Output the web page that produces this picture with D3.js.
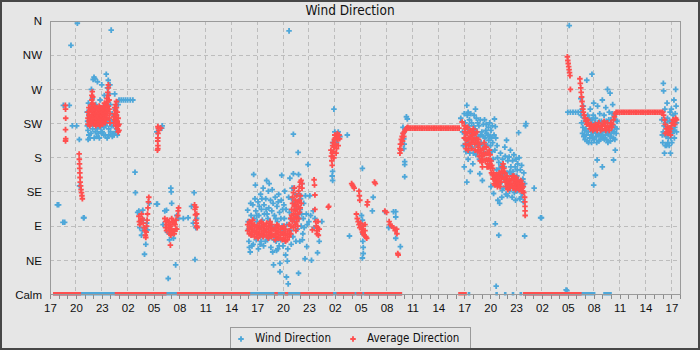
<!DOCTYPE html>
<meta charset="utf-8">
<style>
body { margin: 0; background: #e6e6e6; }
svg { display: block; font-family: "DejaVu Sans Condensed", "DejaVu Sans", sans-serif; }
.grid line { stroke: #bdbdbd; stroke-dasharray: 4,3; shape-rendering: crispEdges; }
.axis text { font-size: 11.5px; fill: #111; }
.axis line { stroke: #8c8c8c; shape-rendering: crispEdges; }
.axis path { display: none; }
</style>

<svg width="700" height="350"></svg>

<script src="https://d3js.org/d3.v7.min.js"></script>
<script>

// hours counted from 17:00 on the first day
var start = new Date(2021, 0, 1, 17);
var toDate = h => new Date(+start + h * 36e5);

var dirTicks = [0, 45, 90, 135, 180, 225, 270, 315, 360];
var dirLabels = ["Calm", "NE", "E", "SE", "S", "SW", "W", "NW", "N"];
var hourTicks = [0, 3, 6, 9, 12, 15, 18, 21, 24, 27, 30, 33, 36, 39, 42, 45, 48, 51, 54, 57, 60, 63, 66, 69, 72];
var hourEnd = 73;

// [hour, degrees] - single readings
var windDir = [
  [0.85,118],[1.0,118],[1.5,95],[1.7,95],[1.55,249],[2.24,249],[2.43,328],[3.17,357],[2.59,222],[3.09,222],
  [3.4,204],[3.42,143],[3.88,101],[3.94,101],
  [4.3,240],[4.35,228],[4.4,216],[4.45,252],[4.5,210],[4.55,234],[4.6,222],[4.7,246],[4.75,212],[4.8,270],
  [4.85,228],[4.9,258],[4.95,218],[5.0,283],[5.05,240],[5.1,286],[5.15,226],[5.2,284],[5.25,214],[5.3,250],
  [5.4,232],[5.45,218],[5.5,280],[5.55,244],[5.6,212],[5.7,228],[5.8,256],[5.85,220],[5.9,238],[6.0,276],
  [6.05,214],[6.1,230],[6.2,248],[6.25,220],[6.3,262],[6.4,210],[6.45,236],[6.52,290],[6.6,226],[6.65,272],
  [6.7,244],[6.75,282],[6.8,218],[6.85,264],[6.9,230],[6.95,276],[7.0,250],[7.1,222],[7.09,348],[7.2,238],
  [7.3,212],[7.4,228],[7.5,264],[7.55,244],[7.6,214],[7.7,236],[7.8,210],[7.9,250],
  [4.32,222],[4.42,204],[4.62,206],[4.72,232],[4.92,224],[5.12,206],[5.22,236],[5.42,208],[5.62,226],[5.72,206],
  [5.92,214],[6.02,226],[6.22,210],[6.42,222],[6.62,206],[6.72,230],[6.82,210],[7.02,214],[7.22,208],[7.32,222],
  [7.42,210],[7.62,226],[7.72,218],
  [8.0,256],[8.25,256],[8.5,256],[8.75,256],[9.0,256],[9.3,256],[9.6,256],
  [9.85,161],[9.9,134],[10.15,108],[10.3,110],[10.4,88],[10.5,96],[10.6,78],[10.7,84],[10.75,111],[10.8,98],
  [10.95,53],[11.1,66],[11.2,94],[11.3,85],[11.5,120],[12.36,119],[12.45,119],
  [12.36,214],[12.95,219],[13.0,222],
  [13.1,92],[13.3,110],[13.5,111],[13.6,82],[13.7,21],[13.85,72],[14.0,140],[14.05,135],[14.1,120],[14.3,74],
  [14.56,39],[14.7,104],[14.87,100],[15.45,100],[16.0,101],[16.4,116],[16.6,94],[16.7,134],[16.8,46],[16.9,88],[17.0,100],
  [22.9,111],[22.95,96],[23.0,86],[23.05,70],[23.1,62],[23.2,56],[23.3,104],[23.35,78],[23.45,90],[23.5,118],
  [23.55,66],[23.6,158],[23.65,100],[23.7,84],[23.8,144],[23.85,110],[23.9,72],[24.0,96],[24.1,122],[24.15,60],
  [24.2,104],[24.3,88],[24.4,132],[24.45,70],[24.5,112],[24.6,98],[24.7,140],[24.75,64],[24.8,118],[24.9,84],
  [25.0,126],[25.1,150],[25.15,106],[25.2,72],[25.3,136],[25.35,114],[25.4,146],[25.5,96],[25.55,124],[25.6,62],
  [25.7,110],[25.75,138],[25.8,56],[25.9,39],[26.0,104],[26.1,128],[26.2,70],[26.3,116],[26.4,60],[26.5,132],
  [26.6,108],[26.65,41],[26.65,30],[26.7,72],[26.8,124],[26.85,157],[26.9,90],[27.0,64],[27.1,118],[27.2,136],
  [27.3,52],[27.4,23],[27.5,44],[27.6,14],[27.7,347],[27.75,108],[27.8,153],[27.9,84],[28.0,126],[28.1,98],
  [28.2,211],[28.2,159],[28.3,140],[28.4,116],[28.5,70],[28.6,104],[28.75,187],[28.8,158],[28.8,28],[28.9,132],
  [29.0,112],[29.1,90],[29.2,146],[29.3,80],[29.4,120],[29.55,47],[29.7,106],[29.75,63],[29.9,171],[30.0,96],
  [30.1,130],[30.3,45],[30.5,110],[30.6,88],[30.7,100],[31.0,55],[31.2,70],[31.5,96],
  [23.15,90],[23.25,120],[23.4,64],[23.75,126],[23.95,104],[24.05,80],[24.25,116],[24.35,66],[24.55,126],[24.65,76],
  [24.85,106],[24.95,70],[25.05,112],[25.25,100],[25.45,76],[25.65,90],[25.85,120],[25.95,72],[26.05,88],[26.15,100],
  [26.25,58],[26.35,96],[26.45,122],[26.55,64],[26.75,100],[26.95,112],[27.05,84],[27.15,100],[27.25,70],[27.35,112],
  [27.45,92],[27.55,60],[27.65,128],[27.85,100],[27.95,66],[28.05,140],[28.15,76],[28.25,120],[28.35,96],[28.45,132],
  [28.55,112],[28.65,86],[28.85,100],[28.95,70],[29.05,126],[29.15,106],[29.25,72],[29.35,100],[29.45,88],[29.6,130],
  [29.8,92],[30.2,104],
  [32.75,162],[32.75,150],[32.7,156],[32.75,200],[32.9,244],[33.0,214],[33.2,200],[33.4,214],[33.6,208],[34.45,210],
  [34.7,77],[36.2,166],[36.2,98],[36.2,90],[36.25,80],[36.25,70],[36.3,62],[36.3,54],[36.2,48],[36.1,104],
  [37.35,110],[37.45,128],[38.8,109],[39.25,88],[39.8,109],[40.06,109],[40.06,102],[40.06,74],[40.6,63],
  [40.9,220],[40.95,212],[41.0,205],[41.05,198],[41.1,175],[41.1,171],[41.1,155],[41.3,234],[41.4,231],[41.0,192],
  [47.6,232],[47.8,214],[47.9,196],[48.0,168],[48.0,238],[48.1,226],[48.15,205],[48.2,188],[48.3,249],[48.3,148],
  [48.35,236],[48.4,218],[48.45,178],[48.5,200],[48.6,230],[48.7,162],[48.8,212],[48.9,194],[49.0,172],[49.1,222],
  [49.2,206],[49.3,244],[49.35,184],[49.4,232],[49.5,214],[49.6,198],[49.7,222],[49.8,159],[49.9,210],[50.0,190],
  [50.1,150],[50.2,224],[50.3,186],[50.4,206],[50.5,216],[50.6,212],[50.7,196],[50.8,220],[50.85,203],[50.9,176],
  [51.0,208],[51.1,216],[51.1,142],[51.2,188],[51.3,200],[51.4,133],[51.5,231],[51.6,221],[51.6,93],[51.7,11],
  [51.75,164],[51.9,124],[52.0,78],[52.0,174],[52.1,120],[52.2,186],[52.4,137],[52.5,158],[52.7,194],[52.8,150],
  [52.9,203],[53.0,130],[53.2,181],[53.3,162],[53.4,168],[53.5,142],[53.6,176],[53.7,151],[53.8,134],[53.95,124],
  [54.1,156],[54.2,137],[54.2,172],[54.3,213],[54.4,148],[54.5,164],[54.6,128],[54.7,133],[54.8,152],[55.0,77],
  [55.1,222],[55.15,225],[56.1,140],[56.85,101],[56.95,101],
  [48.05,212],[48.25,196],[48.45,240],[48.55,222],[48.65,186],[48.75,238],[48.85,226],[48.95,204],[49.05,186],[49.15,236],
  [49.25,218],[49.45,196],[49.55,226],[49.65,208],[49.75,178],[49.85,230],[49.95,200],[50.05,214],[50.15,196],[50.25,208],
  [50.35,230],[50.45,198],[50.55,224],[50.65,186],[50.75,210],[50.95,226],[51.05,196],[51.15,206],[51.25,222],[51.35,178],
  [51.45,210],[51.55,190],[51.65,206],[51.8,196],[51.85,180],[51.95,158],[52.05,166],[52.15,146],[52.25,170],[52.35,128],
  [52.45,178],[52.55,140],[52.65,168],[52.75,182],[52.85,132],[52.95,160],[53.05,176],[53.15,150],[53.25,136],[53.35,190],
  [53.45,158],[53.55,128],[53.65,162],[53.75,184],[53.85,156],[53.9,168],[54.0,178],[54.05,136],[54.15,164],[54.25,150],
  [54.35,180],[54.45,126],[54.55,150],[54.65,170],[54.75,142],[54.85,122],[54.9,160],[55.0,146],
  [59.8,6],[59.9,5],[60.0,240],[60.17,354],[60.3,240],[60.6,240],[60.9,240],[61.2,240],[61.5,240],[61.5,258],
  [61.6,226],[61.7,212],[61.8,248],[61.9,232],[62.0,204],[62.1,218],[62.2,282],[62.3,236],[62.4,200],[62.5,224],
  [62.6,244],[62.7,210],[62.8,290],[62.8,230],[62.9,206],[63.0,144],[63.0,252],[63.1,216],[63.2,157],[63.2,232],
  [63.3,208],[63.4,177],[63.45,248],[63.5,220],[63.6,202],[63.7,238],[63.8,212],[63.9,228],[64.0,168],[64.0,256],
  [64.1,206],[64.2,236],[64.3,218],[64.4,246],[64.5,204],[64.6,270],[64.6,226],[64.7,212],[64.8,240],[64.9,265],
  [64.9,208],[65.0,230],[65.1,216],[65.2,250],[65.3,177],[65.3,206],[65.4,236],[65.5,190],[65.5,220],[65.6,212],[65.7,228],
  [61.55,236],[61.65,244],[61.75,220],[61.85,208],[61.95,216],[62.05,228],[62.15,210],[62.25,202],[62.35,214],[62.45,232],
  [62.55,206],[62.65,226],[62.75,200],[62.85,214],[62.95,236],[63.05,204],[63.15,226],[63.25,212],[63.35,200],[63.55,210],
  [63.65,228],[63.75,204],[63.85,222],[63.95,208],[64.05,214],[64.15,226],[64.25,204],[64.35,210],[64.45,228],[64.55,214],
  [64.65,200],[64.75,230],[64.85,220],[64.95,202],[65.05,212],[65.15,238],[65.25,222],[65.35,214],[65.45,204],[65.55,230],[65.65,218],
  [70.9,230],[70.95,210],[71.0,200],[71.07,278],[71.1,268],[71.15,222],[71.2,186],[71.25,244],[71.3,196],[71.4,208],
  [71.5,252],[71.6,200],[71.7,218],[71.8,228],[71.9,186],[71.95,206],[72.0,244],[72.1,212],[72.2,236],[72.3,256],
  [72.4,220],[72.5,270],[72.55,248],[72.6,226],
  [71.05,214],[71.35,226],[71.45,196],[71.55,232],[71.65,206],[71.75,196],[71.85,240],[72.05,200],[72.15,228],[72.25,216],
  [72.35,206],[72.45,238],[72.6,214]
];

var avgDir = [
  [1.78,249],[1.8,244],[1.82,232],[1.8,217],[1.82,205],[1.8,202],
  [3.38,185],[3.4,178],[3.42,172],[3.44,166],[3.46,160],[3.48,154],[3.5,148],[3.55,143],[3.6,138],[3.65,134],[3.7,130],[3.75,126],
  [4.4,224],[4.4,232],[4.4,240],[4.5,228],[4.5,236],[4.5,246],[4.6,222],[4.6,230],[4.6,240],[4.7,226],[4.7,234],[4.7,244],
  [4.8,230],[4.8,240],[4.8,250],[4.85,256],[4.85,262],[4.9,236],[4.9,246],[4.9,267],[4.95,226],[4.95,252],[4.95,260],
  [5.0,232],[5.0,242],[5.1,224],[5.1,234],[5.1,244],[5.2,228],[5.2,238],[5.2,248],[5.3,222],[5.3,232],[5.3,242],
  [5.4,226],[5.4,236],[5.4,246],[5.5,230],[5.5,240],[5.6,224],[5.6,234],[5.6,244],[5.7,228],[5.7,238],[5.7,248],
  [5.8,222],[5.8,232],[5.8,242],[5.9,226],[5.9,236],[5.9,246],[6.0,230],[6.0,240],[6.1,224],[6.1,234],[6.1,244],
  [6.2,228],[6.2,238],[6.2,248],[6.3,232],[6.3,242],[6.3,252],[6.4,226],[6.4,236],[6.4,246],[6.5,230],[6.5,240],[6.5,250],
  [6.6,236],[6.6,248],[6.6,258],[6.7,242],[6.7,254],[6.7,266],[6.76,248],[6.76,262],[6.76,272],[6.76,276],
  [6.85,232],[6.85,244],[6.85,256],[6.95,226],[6.95,238],
  [7.4,226],[7.4,234],[7.5,230],[7.5,238],[7.5,246],[7.6,222],[7.6,232],[7.6,242],[7.6,250],
  [7.7,226],[7.7,236],[7.7,246],[7.7,254],[7.8,218],[7.8,228],[7.8,240],[7.9,214],[7.9,222],[7.9,232],[8.0,216],[8.0,224],
  [10.3,103],[10.35,96],[10.4,92],[10.5,98],[10.6,106],[10.7,100],[10.8,94],[10.9,88],[11.0,84],[11.05,78],
  [11.1,75],[11.15,82],[11.2,90],[11.25,98],[11.3,106],[11.35,114],[11.4,122],[11.45,128],
  [12.5,221],[12.55,219],[12.6,216],[12.52,212],[12.5,206],[12.48,202],[12.5,196],[12.5,192],[12.45,190],[12.83,219],
  [13.3,100],[13.4,96],[13.5,92],[13.6,98],[13.7,88],[13.8,84],[13.9,80],[13.95,65],[14.0,90],[14.1,86],
  [14.2,95],[14.3,84],[14.4,80],[14.5,92],[14.6,98],[14.7,86],[14.8,104],[14.85,110],[14.9,114],
  [13.5,84],[13.7,96],[14.0,78],[14.2,82],[14.4,94],[14.6,86],[13.4,88],[14.1,100],[13.9,92],[14.3,96],
  [16.75,118],[16.8,112],[16.85,105],[16.9,98],[16.95,94],[17.0,90],[17.05,88],[16.9,115],[17.0,106],
  [22.9,84],[22.9,92],[23.1,80],[23.1,88],[23.1,96],[23.3,78],[23.3,86],[23.3,94],[23.5,82],[23.5,90],[23.5,98],
  [23.7,76],[23.7,84],[23.7,92],[23.9,80],[23.9,88],[24.1,74],[24.1,82],[24.1,90],[24.3,78],[24.3,86],[24.3,94],
  [24.5,80],[24.5,88],[24.5,96],[24.7,76],[24.7,84],[24.7,92],[24.9,82],[24.9,90],[25.1,78],[25.1,86],[25.1,94],
  [25.3,74],[25.3,82],[25.3,90],[25.5,80],[25.5,88],[25.5,96],[25.7,76],[25.7,84],[25.7,92],[25.9,78],[25.9,86],
  [26.1,72],[26.1,80],[26.1,88],[26.3,76],[26.3,84],[26.3,92],[26.5,74],[26.5,82],[26.5,90],[26.7,78],[26.7,86],
  [26.9,72],[26.9,80],[26.9,88],[27.1,74],[27.1,82],[27.1,90],[27.3,70],[27.3,78],[27.3,86],[27.5,72],[27.5,80],
  [27.7,76],[27.7,84],[27.7,92],[27.9,80],[27.9,90],[27.9,100],
  [28.0,104],[28.0,112],[28.1,96],[28.1,120],[28.1,128],[28.2,88],[28.2,106],[28.2,134],[28.3,100],[28.3,116],[28.3,140],
  [28.4,92],[28.4,110],[28.4,124],[28.5,84],[28.5,102],[28.5,118],[28.6,96],[28.6,112],[28.6,130],[28.7,90],[28.7,106],[28.7,122],
  [28.8,100],[28.8,116],[28.8,136],[28.9,108],[28.9,124],[28.9,142],[29.0,114],[29.0,130],[29.0,148],[29.1,120],[29.1,150],[29.2,140],[29.2,146],
  [30.4,85],[30.6,151],[30.65,144],[30.7,131],[30.7,112],[30.8,96],[30.85,90],[30.9,84],[30.95,80],[31.0,88],
  [31.05,96],[31.1,78],[31.2,86],[32.25,115],[32.3,116],
  [32.55,190],[32.6,182],[32.65,176],[32.7,170],[32.75,196],[32.8,200],[32.85,188],[32.9,180],[32.95,204],[33.0,210],
  [33.05,206],[33.1,198],[33.2,192],[33.25,208],[33.3,212],[33.35,204],[33.4,196],[33.5,210],[33.55,205],[32.7,186],[32.9,194],[33.15,186],
  [34.95,146],[35.05,144],[35.15,142],[35.25,140],[35.8,136],[35.85,130],[35.9,124],[36.8,122],[36.75,118],[37.6,148],[37.7,146],
  [35.5,106],[35.6,100],[35.7,96],[35.8,92],[35.9,88],[36.0,94],[36.1,86],[36.2,82],[36.3,90],[36.4,78],
  [36.5,84],[36.6,76],[36.7,74],[36.3,80],[36.5,92],[38.8,110],[39.0,108],[39.3,96],[39.4,92],[39.6,90],
  [39.8,88],[40.0,84],[40.17,86],[40.2,80],[40.35,52],[40.3,54],
  [40.55,186],[40.55,192],[40.6,198],[40.65,190],[40.7,204],[40.75,198],[40.8,208],[40.85,202],[40.9,212],[41.0,208],
  [41.05,214],[41.15,216],[41.25,218],[41.35,219],[41.45,220],
  [41.6,219],[41.8,219],[42.0,219],[42.2,219],[42.4,219],[42.6,219],[42.8,219],[43.0,219],[43.2,219],[43.4,219],
  [43.6,219],[43.8,219],[44.0,219],[44.2,219],[44.4,219],[44.6,219],[44.8,219],[45.0,219],[45.2,219],[45.4,219],
  [45.6,219],[45.8,219],[46.0,219],[46.2,219],[46.4,219],[46.6,219],[46.8,219],[47.0,219],[47.2,219],[47.4,219],
  [47.75,227],[48.0,222],[48.05,214],[48.1,206],[48.15,198],[48.2,192],[48.3,220],[48.35,212],[48.4,204],[48.5,196],
  [48.6,214],[48.7,208],[48.8,200],[48.9,215],[49.0,210],[49.1,204],[49.2,198],[49.3,212],[49.4,206],[49.5,200],
  [49.6,194],[49.7,190],[49.8,198],[49.9,190],[50.0,182],[50.05,174],[50.1,168],[50.2,186],[50.3,200],[50.4,194],
  [50.5,186],[50.6,178],[50.7,172],[50.8,168],[50.9,190],[51.0,184],[51.1,176],[51.2,170],[51.3,166],[51.4,160],
  [51.5,154],[51.6,150],[51.7,146],[51.8,152],[51.9,148],[52.0,144],[52.1,150],[52.2,156],[52.3,162],[52.4,168],
  [52.5,172],[52.6,166],[52.7,160],[52.8,154],[52.9,148],[53.0,144],[53.1,150],[53.2,146],[53.3,140],[53.5,152],
  [53.6,156],[53.7,150],[53.8,146],[53.9,142],[54.0,148],[54.1,144],[54.2,140],[54.3,146],[54.4,142],[54.5,138],
  [54.6,144],[54.7,140],[54.8,136],[54.9,134],[55.0,128],[55.02,122],[55.04,116],[55.05,110],[55.06,104],
  [48.0,206],[48.1,218],[48.2,212],[48.25,204],[48.4,220],[48.45,190],[48.55,206],[48.65,198],[48.75,216],[48.85,192],
  [48.95,204],[49.05,218],[49.15,212],[49.25,190],[49.35,200],[49.45,214],[49.55,188],[49.65,204],[49.75,182],[49.85,176],
  [49.95,186],[50.15,178],[50.25,192],[50.35,184],[50.45,176],[50.55,194],[50.65,168],[50.75,186],[50.85,178],[50.95,172],
  [51.05,166],[51.15,160],[51.25,158],[51.35,152],[51.45,146],[51.55,144],[51.65,156],[51.75,158],[51.85,142],[51.95,154],
  [52.05,160],[52.15,142],[52.25,148],[52.35,154],[52.45,160],[52.55,162],[52.65,152],[52.75,148],[52.85,142],[52.95,156],
  [53.05,138],[53.15,142],[53.25,152],[53.4,146],[53.55,144],[53.65,140],[53.75,156],[53.85,152],[53.95,138],[54.05,154],
  [54.15,150],[54.25,146],[54.35,138],[54.45,148],[54.55,150],[54.65,136],[54.75,146],[54.85,142],
  [59.95,313],[60.0,308],[60.05,304],[60.1,300],[60.15,296],[60.2,292],[60.25,288],[60.3,270],
  [61.4,284],[61.45,278],[61.5,272],[61.55,266],[61.6,260],[61.65,254],[61.7,248],[61.75,244],[61.8,240],[61.9,236],
  [62.0,232],[62.1,228],[62.2,224],[62.3,230],[62.4,226],[62.5,222],[62.6,218],[62.7,224],[62.8,220],[62.9,216],
  [63.0,222],[63.1,218],[63.2,224],[63.3,220],[63.4,216],[63.5,222],[63.6,226],[63.7,220],[63.8,216],[63.9,222],
  [64.0,218],[64.1,224],[64.2,228],[64.3,222],[64.4,216],[64.5,220],[64.6,226],[64.7,220],[64.8,216],[64.9,222],
  [65.0,226],[65.1,220],[65.2,224],[65.3,230],[65.4,234],[65.5,238],
  [65.6,240],[65.8,240],[66.0,240],[66.2,240],[66.4,240],[66.6,240],[66.8,240],[67.0,240],[67.2,240],[67.4,240],
  [67.6,240],[67.8,240],[68.0,240],[68.2,240],[68.4,240],[68.6,240],[68.8,240],[69.0,240],[69.2,240],[69.4,240],
  [69.6,240],[69.8,240],[70.0,240],[70.2,240],[70.4,240],[70.6,240],[70.8,240],[71.0,240],
  [71.1,236],[71.2,230],[71.3,224],[71.4,218],[71.5,214],[71.6,212],[71.7,216],[71.8,214],[71.9,218],[72.0,222],
  [72.1,226],[72.2,230],[72.3,228],[72.4,224],[72.5,232],[72.6,230],[71.3,212],[71.6,220],[71.9,210]
];

// [from hour, to hour] periods reported as calm
var windCalm = [[0.35,40.8],[48.4,48.7],[51.6,51.9],[52.6,52.9],[53.5,53.8],[54.4,54.7],[54.8,63.2],[64.1,65.1]];
var avgCalm = [[0.35,3.6],[7.5,13.5],[14.7,23.2],[26.0,26.4],[27.2,27.6],[29.0,32.8],[33.2,35.3],[35.5,36.2],[36.4,40.8],[47.3,48.3],[54.8,61.6]];

var svg = d3.select("svg");
var plotL = 50, plotR = 680, plotT = 21, plotB = 294.5;

var x = d3.scaleTime().domain([toDate(0), toDate(hourEnd)]).range([plotL, plotR]);
var y = d3.scaleLinear().domain([0, 360]).range([plotB, plotT]);

svg.append("rect").attr("width", 700).attr("height", 350).attr("fill", "#e6e6e6");

svg.append("text")
    .attr("x", 350).attr("y", 15)
    .attr("text-anchor", "middle")
    .style("font-size", "13.5px")
    .attr("fill", "#111")
    .text("Wind Direction");

// grid
var grid = svg.append("g").attr("class", "grid");
grid.selectAll(".h").data(dirTicks.slice(1, -1)).enter().append("line")
    .attr("x1", plotL).attr("x2", plotR)
    .attr("y1", d => y(d)).attr("y2", d => y(d));
grid.selectAll(".v").data(hourTicks.slice(1)).enter().append("line")
    .attr("x1", d => x(toDate(d))).attr("x2", d => x(toDate(d)))
    .attr("y1", plotT).attr("y2", plotB);

svg.append("clipPath").attr("id", "plot")
  .append("rect").attr("x", plotL).attr("y", plotT).attr("width", plotR - plotL).attr("height", plotB - plotT + 1);

var plot = svg.append("g").attr("clip-path", "url(#plot)");
var cross = d3.symbol(d3.symbolCross, 17);

plot.append("g").selectAll("rect").data(windCalm).enter().append("rect")
    .attr("x", d => x(toDate(d[0]))).attr("width", d => x(toDate(d[1])) - x(toDate(d[0])))
    .attr("y", y(0) - 2.5).attr("height", 5).attr("fill", "#4ea7d9");
plot.append("g").selectAll("path").data(windDir).enter().append("path")
    .attr("d", cross)
    .attr("transform", d => "translate(" + x(toDate(d[0])) + "," + y(d[1]) + ")")
    .attr("fill", "#4ea7d9");

plot.append("g").selectAll("rect").data(avgCalm).enter().append("rect")
    .attr("x", d => x(toDate(d[0]))).attr("width", d => x(toDate(d[1])) - x(toDate(d[0])))
    .attr("y", y(0) - 2.5).attr("height", 5).attr("fill", "#ff4f4f");
plot.append("g").selectAll("path").data(avgDir).enter().append("path")
    .attr("d", cross)
    .attr("transform", d => "translate(" + x(toDate(d[0])) + "," + y(d[1]) + ")")
    .attr("fill", "#ff4f4f");

// frame
svg.append("rect")
    .attr("x", plotL).attr("y", plotT).attr("width", plotR - plotL).attr("height", plotB - plotT)
    .attr("fill", "none").attr("stroke", "#9a9a9a").attr("shape-rendering", "crispEdges");

// axes
svg.append("g").attr("class", "axis")
    .attr("transform", "translate(0," + plotB + ")")
    .call(d3.axisBottom(x).tickValues(d3.timeHour.range(toDate(0), toDate(hourEnd + 1))).tickSize(4).tickFormat(""));
svg.append("g").attr("class", "axis")
    .attr("transform", "translate(0," + plotB + ")")
    .call(d3.axisBottom(x).tickValues(hourTicks.map(toDate)).tickSize(4).tickPadding(5).tickFormat(d3.timeFormat("%H")));
svg.append("g").attr("class", "axis")
    .attr("transform", "translate(" + plotL + ",0)")
    .call(d3.axisLeft(y).tickValues(dirTicks).tickSize(0).tickPadding(8).tickFormat((d, i) => dirLabels[i]));

// legend
var legend = svg.append("g").style("font-size", "11.5px");
legend.append("rect").attr("x", 230.5).attr("y", 327.5).attr("width", 240).attr("height", 26)
    .attr("fill", "none").attr("stroke", "#9a9a9a");
var items = [["Wind Direction", "#4ea7d9", 241], ["Average Direction", "#ff4f4f", 353]];
items.forEach(function(it) {
  legend.append("path").attr("d", cross).attr("fill", it[1])
      .attr("transform", "translate(" + it[2] + ",339)");
  legend.append("text").attr("x", it[2] + 14).attr("y", 342).attr("fill", "#111").text(it[0]);
});

// outer border
svg.append("rect").attr("x", 1).attr("y", 1).attr("width", 698).attr("height", 348)
    .attr("fill", "none").attr("stroke", "#474747").attr("stroke-width", 2);

</script>
